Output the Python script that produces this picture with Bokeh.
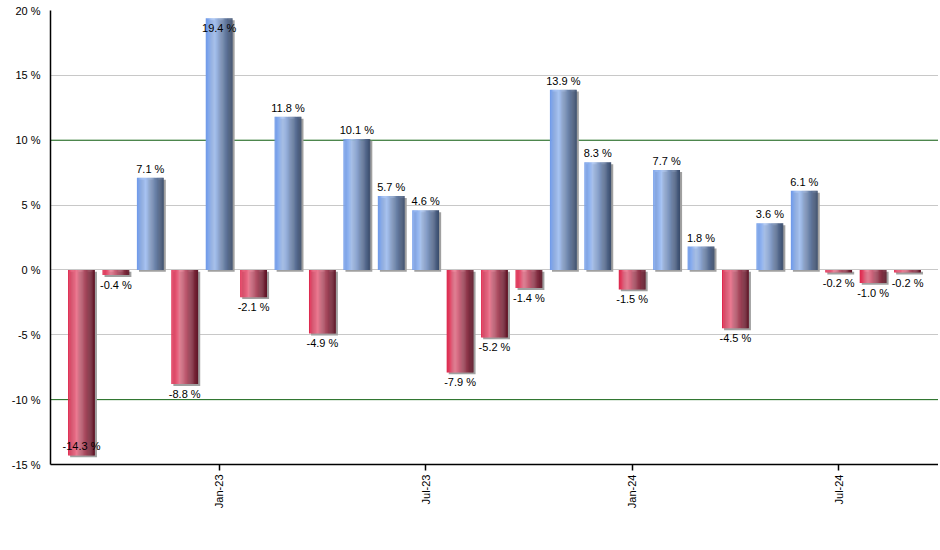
import math
from bokeh.plotting import figure
from bokeh.models import ColumnDataSource, FixedTicker, Span, Range1d
from bokeh.core.properties import value
from bokeh.embed import file_html
from bokeh.resources import INLINE

# ---- data ----
months = ["Sep-22", "Oct-22", "Nov-22", "Dec-22", "Jan-23", "Feb-23", "Mar-23", "Apr-23",
          "May-23", "Jun-23", "Jul-23", "Aug-23", "Sep-23", "Oct-23", "Nov-23", "Dec-23",
          "Jan-24", "Feb-24", "Mar-24", "Apr-24", "May-24", "Jun-24", "Jul-24", "Aug-24", "Sep-24"]
returns = [-14.3, -0.4, 7.1, -8.8, 19.4, -2.1, 11.8, -4.9, 10.1, 5.7, 4.6, -7.9, -5.2, -1.4,
           13.9, 8.3, -1.5, 7.7, 1.8, -4.5, 3.6, 6.1, -0.2, -1.0, -0.2]
tick_labels = ["Jan-23", "Jul-23", "Jan-24", "Jul-24"]
y_ticks = [-15, -10, -5, 0, 5, 10, 15, 20]

FONT = "Liberation Sans"
idx = list(range(len(months)))
tick_pos = [months.index(t) for t in tick_labels]

p = figure(width=938, height=540, output_backend="svg", toolbar_location=None,
           x_range=Range1d(-0.9, len(months) - 0.1), y_range=Range1d(-15, 20),
           min_border_left=50, min_border_right=0, min_border_top=10, min_border_bottom=76)
p.outline_line_color = None
p.background_fill_color = "white"
p.xgrid.visible = False
p.ygrid.ticker = FixedTicker(ticks=y_ticks)
p.ygrid.grid_line_color = "#c8c8c8"

for v in (10, -10):
    p.add_layout(Span(location=v, dimension="width", line_color="#1a6b1a", line_width=1, level="underlay"))

# axes
p.yaxis.ticker = FixedTicker(ticks=y_ticks)
p.yaxis.major_label_overrides = {t: f"{t} %" for t in y_ticks}
p.yaxis.major_tick_line_color = None
p.yaxis.minor_tick_line_color = None
p.yaxis.axis_line_color = "black"
p.yaxis.axis_line_width = 1.5
p.yaxis.major_label_standoff = 4
p.yaxis.major_label_text_font = FONT
p.yaxis.major_label_text_font_size = "11px"
p.yaxis.major_label_text_color = "black"

p.xaxis.ticker = FixedTicker(ticks=tick_pos)
p.xaxis.major_label_overrides = {pos: lab for pos, lab in zip(tick_pos, tick_labels)}
p.xaxis.major_label_orientation = math.pi / 2
p.xaxis.major_tick_in = 0
p.xaxis.major_tick_out = 6
p.xaxis.major_tick_line_color = "black"
p.xaxis.major_tick_line_width = 1.5
p.xaxis.minor_tick_line_color = None
p.xaxis.axis_line_color = "black"
p.xaxis.axis_line_width = 1.5
p.xaxis.major_label_standoff = 4
p.xaxis.major_label_text_font = FONT
p.xaxis.major_label_text_font_size = "11px"
p.xaxis.major_label_text_color = "black"

# ---- bars with horizontal gradient (strips) ----
W = 0.78
N = 24
blue_stops = [(0.0, (0x6e, 0x99, 0xe8)), (0.32, (0xa8, 0xc4, 0xf2)), (1.0, (0x38, 0x4a, 0x6a))]
red_stops = [(0.0, (0xdc, 0x24, 0x4a)), (0.32, (0xe9, 0x7b, 0x92)), (1.0, (0x5c, 0x12, 0x24))]


def interp(stops, t):
    for (t0, c0), (t1, c1) in zip(stops[:-1], stops[1:]):
        if t0 <= t <= t1:
            f = (t - t0) / (t1 - t0)
            return "#%02x%02x%02x" % tuple(int(round(a + (b - a) * f)) for a, b in zip(c0, c1))
    return "#%02x%02x%02x" % stops[-1][1]


# shadow
sh = dict(left=[], right=[], top=[], bottom=[])
for i, v in zip(idx, returns):
    sh["left"].append(i - W / 2 + 0.06)
    sh["right"].append(i + W / 2 + 0.06)
    sh["top"].append(max(v, 0) - 0.15)
    sh["bottom"].append(min(v, 0) - 0.15)
p.quad(source=ColumnDataSource(sh), left="left", right="right", top="top", bottom="bottom",
       fill_color="#a0a0a0", line_color=None)

strips = dict(left=[], right=[], top=[], bottom=[], color=[])
sw = W / N
for i, v in zip(idx, returns):
    stops = blue_stops if v >= 0 else red_stops
    for k in range(N):
        l = i - W / 2 + k * sw
        r = l + sw + (0.006 if k < N - 1 else 0)
        strips["left"].append(l)
        strips["right"].append(r)
        strips["top"].append(max(v, 0))
        strips["bottom"].append(min(v, 0))
        strips["color"].append(interp(stops, (k + 0.5) / N))
p.quad(source=ColumnDataSource(strips), left="left", right="right", top="top", bottom="bottom",
       fill_color="color", line_color=None)

# ---- value labels ----
lab = dict(x=[], y=[], text=[], base=[], off=[])
for i, v in zip(idx, returns):
    lab["x"].append(i)
    lab["y"].append(v)
    lab["text"].append(f"{v:.1f} %")
    if v >= 0:
        if v > 18.5:
            lab["base"].append("top"); lab["off"].append(4)
        else:
            lab["base"].append("bottom"); lab["off"].append(-3)
    else:
        if v < -13.5:
            lab["base"].append("bottom"); lab["off"].append(-3)
        else:
            lab["base"].append("top"); lab["off"].append(4)
p.text(source=ColumnDataSource(lab), x="x", y="y", text="text", text_align="center",
       text_baseline="base", y_offset="off", text_font=value(FONT), text_font_size="11px",
       text_color="black")

open("out.html", "w").write(file_html(p, INLINE))
